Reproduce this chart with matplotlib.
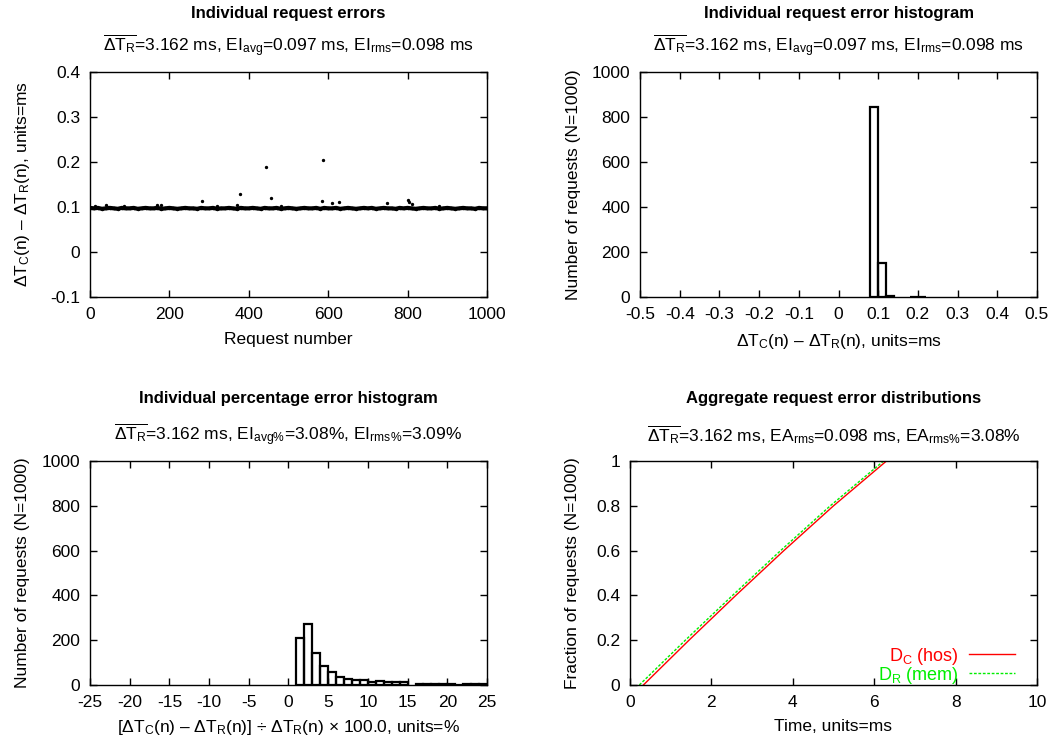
import matplotlib.pyplot as plt
from matplotlib.ticker import FuncFormatter, MultipleLocator

plt.rcParams['font.family'] = ['Liberation Sans', 'DejaVu Sans']
plt.rcParams['mathtext.fontset'] = 'custom'
plt.rcParams['mathtext.rm'] = 'Liberation Sans'
plt.rcParams['mathtext.it'] = 'Liberation Sans'
plt.rcParams['mathtext.bf'] = 'Liberation Sans:bold'
plt.rcParams['axes.unicode_minus'] = False
plt.rcParams['font.size'] = 12.5

# --- data ---
# individual request errors (band sampled every 10 requests, units=ms)
band_req = list(range(0, 1001, 10))
band_err = [0.098, 0.097, 0.098, 0.096, 0.097, 0.098, 0.097, 0.096, 0.098, 0.097,
            0.097, 0.098, 0.096, 0.097, 0.098, 0.097, 0.097, 0.098, 0.096, 0.097,
            0.098, 0.097, 0.096, 0.097, 0.098, 0.097, 0.097, 0.096, 0.098, 0.097,
            0.097, 0.098, 0.096, 0.097, 0.097, 0.098, 0.097, 0.096, 0.098, 0.097,
            0.097, 0.098, 0.097, 0.096, 0.098, 0.097, 0.097, 0.098, 0.096, 0.097,
            0.098, 0.097, 0.096, 0.097, 0.098, 0.097, 0.097, 0.098, 0.096, 0.098,
            0.097, 0.097, 0.098, 0.096, 0.097, 0.098, 0.097, 0.096, 0.097, 0.098,
            0.097, 0.098, 0.096, 0.097, 0.098, 0.097, 0.097, 0.096, 0.098, 0.097,
            0.098, 0.097, 0.096, 0.097, 0.098, 0.097, 0.097, 0.098, 0.096, 0.097,
            0.098, 0.097, 0.096, 0.097, 0.098, 0.097, 0.097, 0.096, 0.098, 0.097,
            0.097]
outlier_req = [12, 40, 85, 170, 180, 281, 320, 370, 378, 443, 455, 480, 584, 586,
               609, 628, 749, 802, 803, 811, 880]
outlier_err = [0.103, 0.104, 0.103, 0.104, 0.104, 0.114, 0.103, 0.104, 0.130, 0.189,
               0.120, 0.103, 0.114, 0.205, 0.109, 0.111, 0.109, 0.115, 0.112, 0.107,
               0.103]

# histogram of errors, 0.02 ms bins
err_bin_left = [0.08, 0.10, 0.12, 0.18, 0.20]
err_bin_count = [843, 151, 4, 1, 1]

# histogram of percentage errors, 1 % bins
pct_bin_left = [1, 2, 3, 4, 5, 6, 7, 8, 9, 10, 11, 12, 13, 14,
                16, 17, 18, 19, 20, 21, 22, 23, 24]
pct_bin_count = [211, 271, 141, 86, 60, 37, 28, 22, 22, 12, 16, 12, 15, 15,
                 5, 3, 5, 6, 3, 2, 3, 4, 3]

# aggregate distributions (time in ms vs fraction of requests)
frac = [0.0, 0.2, 0.4, 0.6, 0.8, 1.0]
dc_time = [0.33, 1.45, 2.60, 3.78, 5.00, 6.30]
dr_time = [0.23, 1.36, 2.52, 3.70, 4.92, 6.23]

fmt = FuncFormatter(lambda v, pos: '%g' % round(v, 6))
sub_tr = r'$\overline{\Delta T_\mathrm{R}}$=3.162 ms, '


def style(ax, title, subtitle, xlabel, ylabel, ylab_x, title_off, sub_off, xlab_y):
    ax.tick_params(direction='in', top=True, right=True, length=5, width=1,
                   pad=7, labelsize=12.5)
    for s in ax.spines.values():
        s.set_linewidth(1)
    ax.xaxis.set_major_formatter(fmt)
    ax.yaxis.set_major_formatter(fmt)
    ax.annotate(title, xy=(0.5, 1), xycoords='axes fraction', xytext=(0, title_off),
                textcoords='offset points', ha='center', va='center',
                fontweight='bold', fontsize=12)
    ax.annotate(subtitle, xy=(0.5, 1), xycoords='axes fraction', xytext=(0, sub_off),
                textcoords='offset points', ha='center', va='center', fontsize=12.5)
    ax.set_xlabel(xlabel, fontsize=12.5)
    ax.set_ylabel(ylabel, fontsize=12.5)
    ax.yaxis.set_label_coords(ylab_x, 0.5)
    ax.xaxis.set_label_coords(0.5, xlab_y)


fig = plt.figure(figsize=(10.6, 7.44), dpi=100)

# top left: individual request errors
ax1 = fig.add_axes([0.0849, 0.6008, 0.3745, 0.3024])
ax1.plot(band_req, band_err, color='black', lw=3, marker='.', ms=3)
ax1.plot(outlier_req, outlier_err, 'k.', ms=2.8, ls='none')
ax1.set_xlim(0, 1000)
ax1.set_ylim(-0.1, 0.4)
ax1.xaxis.set_major_locator(MultipleLocator(200))
ax1.yaxis.set_major_locator(MultipleLocator(0.1))
style(ax1, 'Individual request errors',
      sub_tr + r'EI$_\mathrm{avg}$=0.097 ms, EI$_\mathrm{rms}$=0.098 ms',
      r'Request number',
      r'$\Delta T_\mathrm{C}$(n) – $\Delta T_\mathrm{R}$(n), units=ms',
      -0.145, 42, 19, -0.156)

# top right: error histogram
ax2 = fig.add_axes([0.6038, 0.6008, 0.3745, 0.3024])
ax2.bar(err_bin_left, err_bin_count, width=0.02, align='edge', fill=False,
        edgecolor='black', lw=1.6)
ax2.set_xlim(-0.5, 0.5)
ax2.set_ylim(0, 1000)
ax2.xaxis.set_major_locator(MultipleLocator(0.1))
ax2.yaxis.set_major_locator(MultipleLocator(200))
style(ax2, 'Individual request error histogram',
      sub_tr + r'EI$_\mathrm{avg}$=0.097 ms, EI$_\mathrm{rms}$=0.098 ms',
      r'$\Delta T_\mathrm{C}$(n) – $\Delta T_\mathrm{R}$(n), units=ms',
      'Number of requests (N=1000)',
      -0.149, 42, 19, -0.156)

# bottom left: percentage error histogram
ax3 = fig.add_axes([0.0849, 0.0793, 0.3745, 0.301])
ax3.bar(pct_bin_left, pct_bin_count, width=1, align='edge', fill=False,
        edgecolor='black', lw=1.6)
ax3.set_xlim(-25, 25)
ax3.set_ylim(0, 1000)
ax3.xaxis.set_major_locator(MultipleLocator(5))
ax3.yaxis.set_major_locator(MultipleLocator(200))
style(ax3, 'Individual percentage error histogram',
      sub_tr + r'EI$_\mathrm{avg\%}$=3.08%, EI$_\mathrm{rms\%}$=3.09%',
      r'[$\Delta T_\mathrm{C}$(n) – $\Delta T_\mathrm{R}$(n)] ÷ $\Delta T_\mathrm{R}$(n) × 100.0, units=%',
      'Number of requests (N=1000)',
      -0.151, 45, 19, -0.147)

# bottom right: aggregate distributions
ax4 = fig.add_axes([0.5943, 0.0793, 0.384, 0.301])
ax4.plot(dc_time, frac, color='#ff0000', lw=1, label=r'D$_\mathrm{C}$ (hos)')
ax4.plot(dr_time, frac, color='#00ee00', lw=1, ls=(0, (2, 1.2)),
         label=r'D$_\mathrm{R}$ (mem)')
ax4.set_xlim(0, 10)
ax4.set_ylim(0, 1)
ax4.xaxis.set_major_locator(MultipleLocator(2))
ax4.yaxis.set_major_locator(MultipleLocator(0.2))
style(ax4, 'Aggregate request error distributions',
      sub_tr + r'EA$_\mathrm{rms}$=0.098 ms, EA$_\mathrm{rms\%}$=3.08%',
      'Time, units=ms',
      'Fraction of requests (N=1000)',
      -0.123, 45, 19, -0.15)
leg = ax4.legend(loc='lower right', frameon=False, markerfirst=False,
                 labelcolor='linecolor', handlelength=2.55, fontsize=13,
                 borderaxespad=0.3, labelspacing=-0.1, handletextpad=0.55,
                 bbox_to_anchor=(0.977, -0.06))
for t in leg.get_texts():
    t.set_ha('right')

fig.savefig('out.png', dpi=100)
